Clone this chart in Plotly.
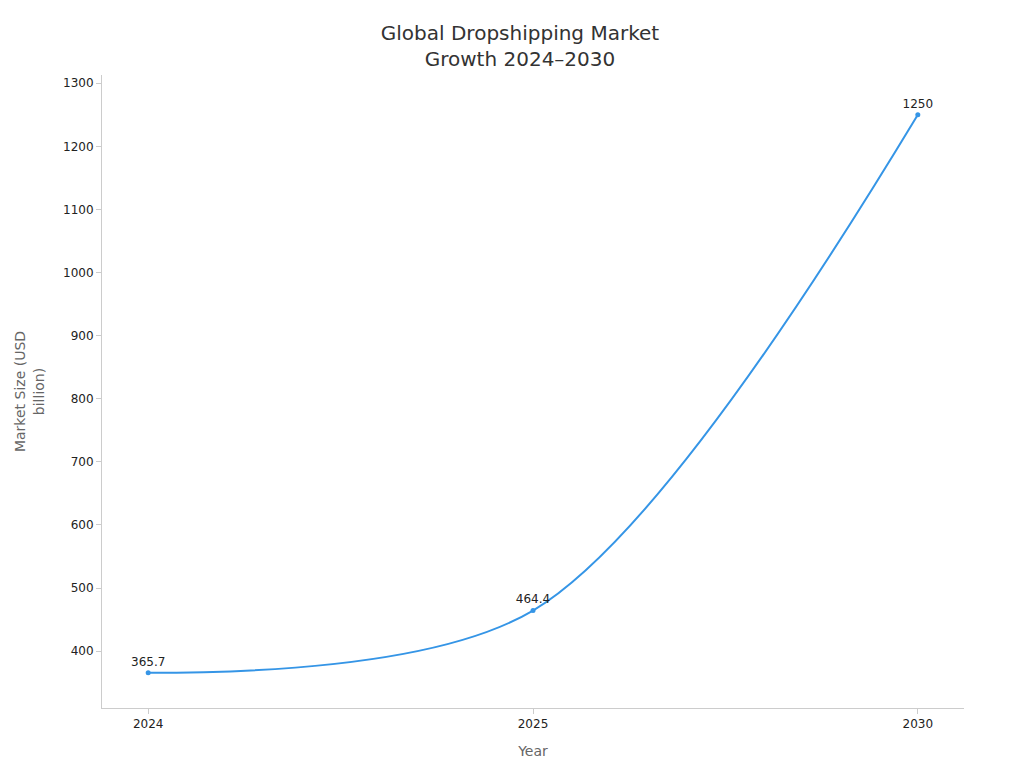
import plotly.graph_objects as go

years = ["2024", "2025", "2030"]
market_size = [365.7, 464.4, 1250]
labels = ["365.7", "464.4", "1250"]

fig = go.Figure(
    go.Scatter(
        x=years,
        y=market_size,
        mode="lines+markers+text",
        text=labels,
        textposition="top center",
        textfont=dict(size=12, color="#222222"),
        line=dict(color="#3595e6", width=2, shape="spline", smoothing=0.9),
        marker=dict(size=5, color="#3595e6"),
        cliponaxis=False,
    )
)

fig.update_layout(
    title=dict(
        text="Global Dropshipping Market<br>Growth 2024–2030",
        x=0.5, xanchor="center", y=0.958, yanchor="top",
        font=dict(size=20, color="#333333"),
    ),
    font=dict(family="DejaVu Sans", size=12, color="#222222"),
    width=1024, height=768,
    margin=dict(l=88, r=68, t=67, b=68),
    paper_bgcolor="white", plot_bgcolor="white",
    showlegend=False,
    xaxis=dict(
        title=dict(text="Year", font=dict(size=14, color="#666666")),
        type="category", range=[-0.12, 2.12],
        showline=True, linecolor="#cccccc", ticks="outside", ticklen=5,
        tickcolor="#cccccc", showgrid=False,
    ),
    yaxis=dict(
        title=dict(text="Market Size (USD<br>billion)", font=dict(size=14, color="#666666")),
        range=[310, 1313], dtick=100,
        showline=True, linecolor="#cccccc", ticks="outside", ticklen=5,
        tickcolor="#cccccc", showgrid=False, zeroline=False,
    ),
)

fig.write_html("out.html")
